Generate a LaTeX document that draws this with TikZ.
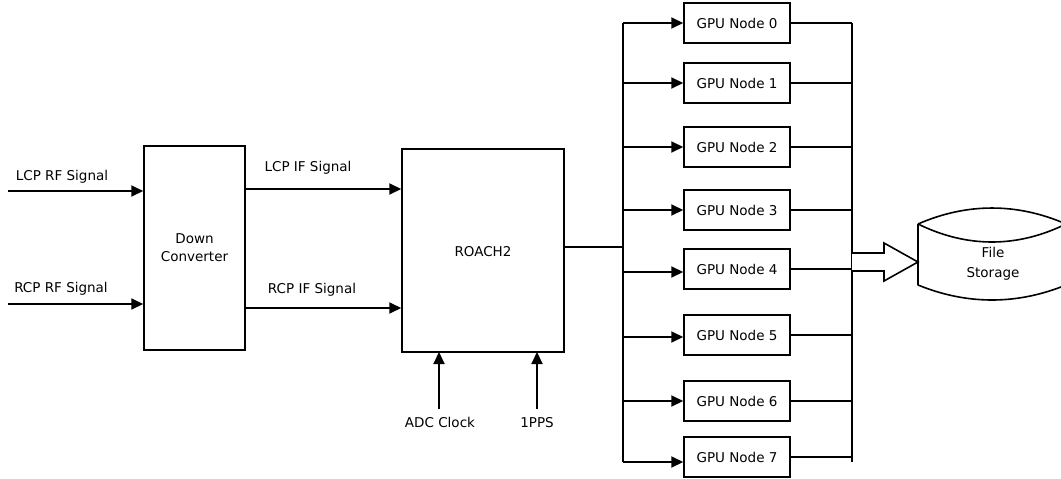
\documentclass[tikz,border=0pt]{standalone}
\usepackage{fontspec}
\setmainfont{DejaVu Sans}
\usetikzlibrary{arrows.meta}
\begin{document}
\begin{tikzpicture}[x=1pt,y=-1pt,
  box/.style={draw, line width=1.5pt, align=center, inner sep=0pt, font=\fontsize{13.5}{18}\selectfont},
  gpu/.style={box, minimum width=106pt, minimum height=40pt},
  lbl/.style={inner sep=0pt, font=\fontsize{13.5}{18}\selectfont},
  wire/.style={line width=2pt},
  arr/.style={wire, -{Triangle[length=12pt,width=11pt]}}]
\useasboundingbox (0,0) rectangle (1061,479);
% main blocks
\node[box, minimum width=101pt, minimum height=204pt] (dc) at (194.5,248) {Down\\Converter};
\node[box, minimum width=162pt, minimum height=203pt] (roach) at (483,250.5) {};
\node[lbl] at (483,252) {ROACH2};
% inputs to down converter
\coordinate (lrf) at (8,191);
\coordinate (rrf) at (8,304);
\draw[arr] (lrf) -- (lrf -| dc.west);
\draw[arr] (rrf) -- (rrf -| dc.west);
\node[lbl] at (62,177) {LCP RF Signal};
\node[lbl] at (61,289) {RCP RF Signal};
% IF signals
\coordinate (lif) at (245,189);
\coordinate (rif) at (245,308);
\draw[arr] (lif) -- (lif -| roach.west);
\draw[arr] (rif) -- (rif -| roach.west);
\node[lbl] at (308,168) {LCP IF Signal};
\node[lbl] at (312,290) {RCP IF Signal};
% clock inputs
\node[lbl, anchor=north] (adc) at (440,417) {ADC Clock};
\node[lbl, anchor=north] (pps) at (537,417) {1PPS};
\draw[arr] (439,409) -- (439,352);
\draw[arr] (537,409) -- (537,352);
% GPU nodes
\foreach \i/\y in {0/23,1/83,2/147,3/210,4/269,5/335,6/401,7/457} {
  \node[gpu] (g\i) at (737,\y) {GPU Node \i};
}
% left bus
\coordinate (lbt) at (623,23);
\coordinate (lbb) at (623,462);
\draw[wire] (lbt) -- (lbb);
\coordinate (rout) at (623,247);
\draw[wire] (rout -| roach.east) -- (rout);
\foreach \i/\y in {0/23,1/83,2/147,3/210,4/272,5/337,6/401,7/462} {
  \draw[arr] (623,\y) -- (g\i.west |- 0,\y);
}
% right bus
\coordinate (rbt) at (852,23);
\coordinate (rbb) at (852,462);
\draw[wire] (rbt) -- (rbb);
\foreach \i in {0,...,7} {
  \draw[wire] (g\i.east) -- (g\i.east -| rbt);
}
% block arrow
\draw[line width=1.6pt, fill=white, line join=miter] (852,253) -- (884,253) -- (884,243) -- (918,262) -- (884,281) -- (884,271) -- (852,271);
% file storage
\draw[line width=1.6pt] (918,224) .. controls (967,202.7) and (1017,202.7) .. (1066,224)
  (918,224) .. controls (967,248) and (1017,248) .. (1066,224)
  (918,224) -- (918,285)
  (918,285) .. controls (967,305) and (1017,305) .. (1066,285)
  (1066,224) -- (1066,285);
\node[lbl, align=center, font=\fontsize{13.5}{20}\selectfont] (fs) at (993,264) {File\\Storage};
\end{tikzpicture}
\end{document}
